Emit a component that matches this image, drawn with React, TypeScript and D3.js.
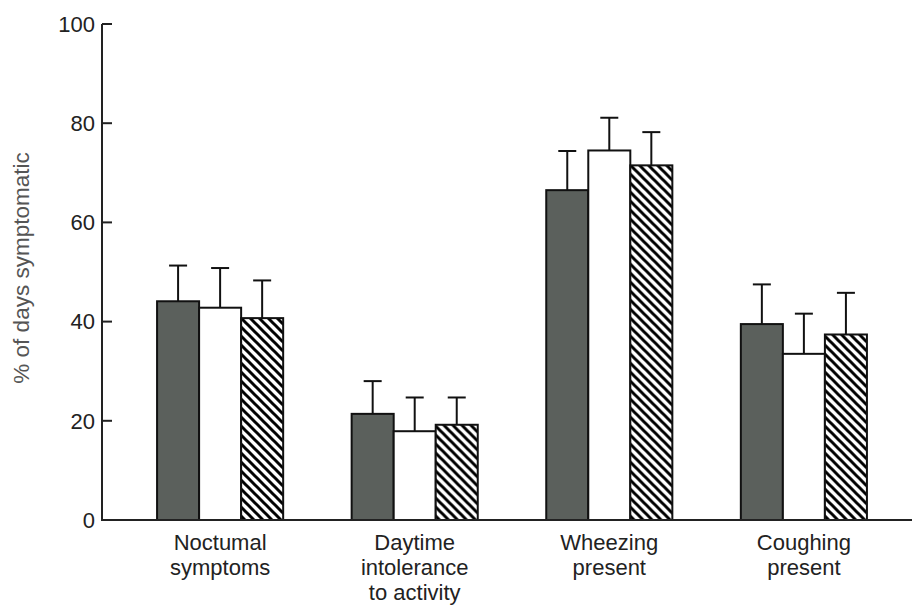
import * as d3 from "d3"

const categories = [
  ["Noctumal", "symptoms"],
  ["Daytime", "intolerance", "to activity"],
  ["Wheezing", "present"],
  ["Coughing", "present"],
]
const seriesKeys = ["dark", "white", "hatched"]
// mean % of days symptomatic, per series, per category
const means = {
  dark: [44.1, 21.4, 66.5, 39.5],
  white: [42.8, 17.9, 74.5, 33.5],
  hatched: [40.7, 19.2, 71.5, 37.4],
}
// top of the error bar (mean + SE)
const upper = {
  dark: [51.3, 28.0, 74.4, 47.5],
  white: [50.8, 24.7, 81.1, 41.6],
  hatched: [48.3, 24.7, 78.2, 45.8],
}
const yTicks = [0, 20, 40, 60, 80, 100]

const W = 912
const H = 605
const font = "'Liberation Sans', Arial, sans-serif"

export default function App() {
  const x0 = d3
    .scaleBand<number>()
    .domain(d3.range(categories.length))
    .range([102, 922])
    .paddingInner(0.352)
    .paddingOuter(0.283)
  const x1 = d3.scaleBand().domain(seriesKeys).range([0, x0.bandwidth()])
  const y = d3.scaleLinear().domain([0, 100]).range([520, 24])

  const fillFor = (k) => (k === "dark" ? "#5b605c" : k === "white" ? "#ffffff" : "url(#hatch)")

  return (
    <svg width={W} height={H} style={{ position: "absolute", left: 0, top: 0, background: "#fff" }}>
      <defs>
        <pattern id="hatch" patternUnits="userSpaceOnUse" width={9} height={9}>
          <rect width={9} height={9} fill="#fff" />
          <path d="M0,0 L9,9 M-4.5,4.5 L4.5,13.5 M4.5,-4.5 L13.5,4.5" stroke="#000" strokeWidth={3} />
        </pattern>
      </defs>

      {/* bars + error bars */}
      {categories.map((_, i) => (
        <g key={i} transform={`translate(${x0(i)},0)`}>
          {seriesKeys.map((k) => {
            const bx = x1(k)
            const bw = x1.bandwidth()
            const cx = bx + bw / 2
            return (
              <g key={k}>
                <line x1={cx} x2={cx} y1={y(means[k][i])} y2={y(upper[k][i])} stroke="#111" strokeWidth={2} />
                <line x1={cx - 9} x2={cx + 9} y1={y(upper[k][i])} y2={y(upper[k][i])} stroke="#111" strokeWidth={2} />
                <rect
                  x={bx}
                  y={y(means[k][i])}
                  width={bw}
                  height={y(0) - y(means[k][i])}
                  fill={fillFor(k)}
                  stroke="#111"
                  strokeWidth={2}
                />
              </g>
            )
          })}
        </g>
      ))}

      {/* y axis */}
      <line x1={102} x2={102} y1={y(100)} y2={y(0)} stroke="#222" strokeWidth={2} />
      <line x1={101} x2={922} y1={y(0)} y2={y(0)} stroke="#222" strokeWidth={2} />
      {yTicks.map((t) => (
        <g key={t}>
          <line x1={102} x2={112} y1={y(t)} y2={y(t)} stroke="#222" strokeWidth={2} />
          <text
            x={95}
            y={y(t)}
            dy="0.35em"
            textAnchor="end"
            fontFamily={font}
            fontSize={22}
            fill="#222"
          >
            {t}
          </text>
        </g>
      ))}
      <text
        transform={`translate(29,268) rotate(-90)`}
        textAnchor="middle"
        fontFamily={font}
        fontSize={22.5}
        fill="#555"
      >
        % of days symptomatic
      </text>

      {/* category labels */}
      {categories.map((lines, i) => (
        <text
          key={i}
          x={x0(i) + x0.bandwidth() / 2}
          y={550}
          textAnchor="middle"
          fontFamily={font}
          fontSize={22}
          fill="#222"
        >
          {lines.map((l, j) => (
            <tspan key={j} x={x0(i) + x0.bandwidth() / 2} y={550 + j * 25}>
              {l}
            </tspan>
          ))}
        </text>
      ))}
    </svg>
  )
}
